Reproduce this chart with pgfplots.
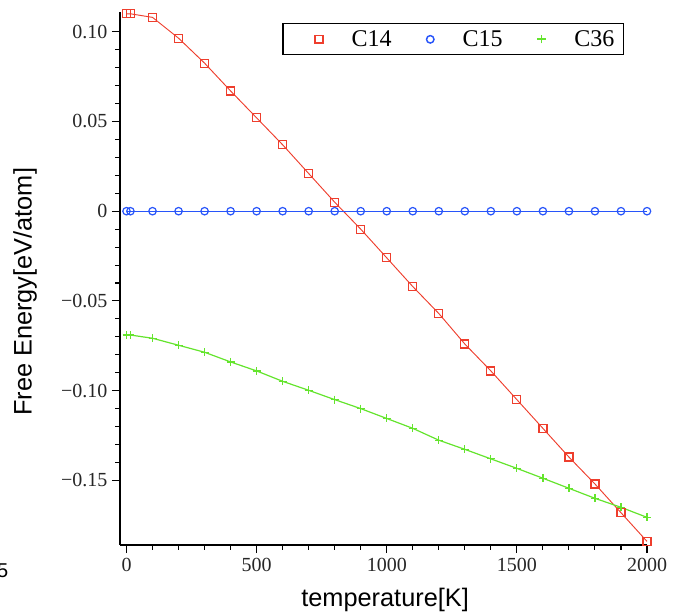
\documentclass[border=0pt]{standalone}
\usepackage{fontspec}
\setmainfont{Liberation Serif}
\newfontfamily\arial{Liberation Sans}
\usepackage{pgfplots}
\pgfplotsset{compat=1.18}
\definecolor{cfourteen}{RGB}{238,62,45}
\definecolor{cfifteen}{RGB}{40,85,250}
\definecolor{cthirtysix}{RGB}{100,228,45}

\begin{document}
\begin{tikzpicture}
\begin{axis}[
  name=ax, at={(0,0)}, anchor=south west,
  scale only axis, width=395.25pt, height=399.75pt,
  axis lines=left, axis line style={-, line width=0.9pt},
  xmin=-25, xmax=2000, ymin=-0.186, ymax=0.111,
  xtick={0,500,1000,1500,2000},
  ytick={-0.15,-0.10,-0.05,0,0.05,0.10},
  yticklabels={−0.15,−0.10,−0.05,0,0.05,0.10},
  minor x tick num=4, minor y tick num=4,
  tick align=outside,
  major tick length=6pt, minor tick length=3.5pt,
  tick style={line width=0.8pt, black},
  tick label style={font=\fontsize{15}{15}\selectfont, black!85},
  /pgf/number format/assume math mode=true,
  /pgf/number format/1000 sep={},
  xlabel={temperature[K]}, ylabel={Free Energy[eV/atom]},
  label style={font=\arial\fontsize{19}{19}\selectfont},
  xlabel style={at={(axis description cs:0.503,-0.103)}, anchor=center},
  ylabel style={at={(axis description cs:-0.18,0.475)}, anchor=center},
  legend columns=3,
  legend style={at={(0.956,0.979)}, anchor=north east, line width=0.8pt,
    font=\fontsize{18}{18}\selectfont, inner xsep=5.75pt, inner ysep=4pt,
    nodes={inner sep=1pt},
    /tikz/every even column/.append style={column sep=6.75pt},
    /tikz/every odd column/.append style={column sep=20pt}},
  clip=false,
]
\addlegendimage{legend image code/.code={\path[draw=none] (-21.25pt,0pt) (0pt,0pt);
  \draw[color=cfourteen, line width=1.1pt] (0pt,0pt) +(-2.9pt,-2.9pt) rectangle +(2.9pt,2.9pt);}}
\addlegendimage{legend image code/.code={\path[draw=none] (-21.25pt,0pt) (0pt,0pt);
  \draw[color=cfifteen, line width=1.1pt] (0pt,0pt) circle[radius=2.8pt];}}
\addlegendimage{legend image code/.code={\path[draw=none] (-21.25pt,0pt) (0pt,0pt);
  \draw[color=cthirtysix, line width=1.1pt] (-3.1pt,0.2pt) -- (3.1pt,0.2pt) (0.2pt,-3.1pt) -- (0.2pt,3.1pt);}}
\legend{C14,C15,C36}
% C14
\addplot[cfourteen, line width=0.7pt, mark=square, mark size=3pt, mark options={line width=0.9pt}, forget plot] coordinates {
(0,0.110) (15,0.110) (100,0.108) (200,0.0964) (300,0.0825) (400,0.067) (500,0.052)
(600,0.037) (700,0.021) (800,0.005) (900,-0.010) (1000,-0.026) (1100,-0.042)
(1200,-0.057) (1300,-0.074) (1400,-0.089) (1500,-0.105) (1600,-0.121)
(1700,-0.137) (1800,-0.152) (1900,-0.168) (2000,-0.184)};
% C15
\addplot[cfifteen, line width=0.9pt, mark=o, mark size=2.8pt, mark options={line width=0.9pt}, forget plot] coordinates {
(0,0) (15,0) (100,0) (200,0) (300,0) (400,0) (500,0) (600,0) (700,0) (800,0)
(900,0) (1000,0) (1100,0) (1200,0) (1300,0) (1400,0) (1500,0) (1600,0)
(1700,0) (1800,0) (1900,0) (2000,0)};
% C36
\addplot[cthirtysix, line width=0.9pt, mark=+, mark size=3pt, mark options={line width=0.9pt}, forget plot] coordinates {
(0,-0.069) (15,-0.069) (100,-0.0708) (200,-0.0747) (300,-0.0786) (400,-0.084)
(500,-0.089) (600,-0.0948) (700,-0.0998) (800,-0.105) (900,-0.110)
(1000,-0.1155) (1100,-0.121) (1200,-0.1276) (1300,-0.1327) (1400,-0.138)
(1500,-0.1433) (1600,-0.1488) (1700,-0.1544) (1800,-0.160) (1900,-0.165)
(2000,-0.1706)};
\end{axis}
\node[font=\arial\fontsize{15}{15}\selectfont] at ([xshift=-88pt,yshift=-19pt]ax.south west) {5};
\pgfresetboundingbox
\path ([xshift=-90pt,yshift=-51pt]ax.south west) rectangle ++(508.5pt,459.75pt);
\end{tikzpicture}
\end{document}
